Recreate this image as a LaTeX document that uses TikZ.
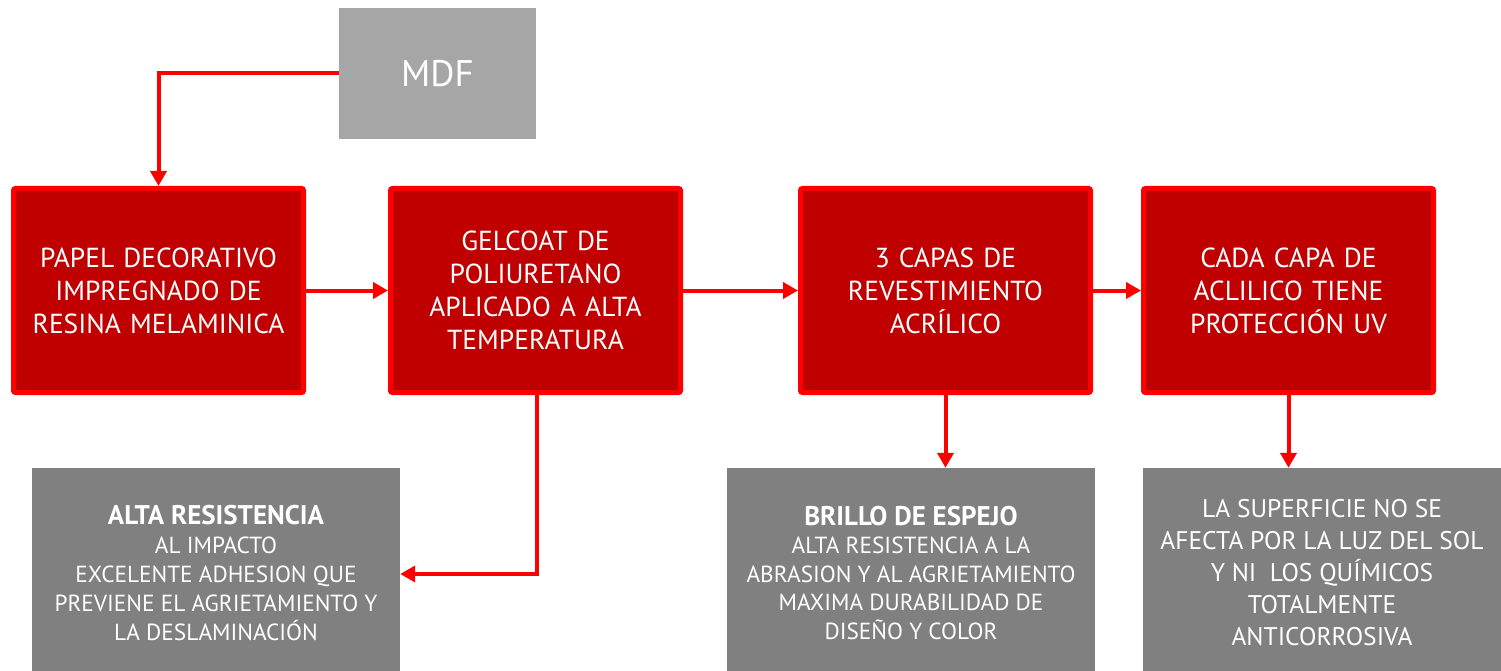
\documentclass[tikz,border=0pt]{standalone}
\usepackage{fontspec}
\setmainfont{PT Sans}
\usetikzlibrary{arrows.meta}
\definecolor{boxred}{HTML}{C00000}
\definecolor{linered}{HTML}{FF0000}
\definecolor{mdfgray}{HTML}{A6A6A6}
\definecolor{darkgray}{HTML}{808080}
\newcommand{\boldhead}[1]{{\fontsize{27}{29}\selectfont\bfseries #1}}
\tikzset{
  redbox/.style={draw=linered, fill=boxred, line width=5pt, rounded corners=2pt,
    minimum width=290pt, minimum height=204pt, text width=280pt, align=center,
    text=white, font=\fontsize{27.5}{33}\selectfont, inner sep=0pt},
  graybox/.style={fill=darkgray, minimum height=209pt, align=center,
    text=white, font=\fontsize{23.3}{29}\selectfont, inner sep=0pt},
  arr/.style={draw=linered, line width=4pt, -{Triangle[length=15pt,width=16pt]}}
}
\begin{document}
\begin{tikzpicture}[x=1pt,y=-1pt]
\useasboundingbox (0,0) rectangle (1501,671);
\node[fill=mdfgray, minimum width=197pt, minimum height=131pt, text=white,
  font=\fontsize{37}{42}\selectfont, inner sep=0pt] (mdf) at (437.5,73.5) {MDF};
\node[redbox] (p1) at (158.5,290.5) {PAPEL DECORATIVO\\IMPREGNADO DE\\RESINA MELAMINICA};
\node[redbox] (p2) at (535.5,290.5) {GELCOAT DE\\POLIURETANO\\APLICADO A ALTA\\TEMPERATURA};
\node[redbox] (p3) at (945.5,290.5) {3 CAPAS DE\\REVESTIMIENTO\\ACRÍLICO};
\node[redbox] (p4) at (1288.5,290.5) {CADA CAPA DE\\ACLILICO TIENE\\PROTECCIÓN UV};
\node[graybox, minimum width=368pt] (ga) at (216,572.5) {\boldhead{ALTA RESISTENCIA}\\AL IMPACTO\\EXCELENTE ADHESION QUE\\PREVIENE EL AGRIETAMIENTO Y\\LA DESLAMINACIÓN};
\node[graybox, minimum width=368pt, font=\fontsize{23.3}{28.5}\selectfont] (gb) at (911,572.5) {\boldhead{BRILLO DE ESPEJO}\\ALTA RESISTENCIA A LA\\ABRASION Y AL AGRIETAMIENTO\\MAXIMA DURABILIDAD DE\\DISEÑO Y COLOR};
\node[graybox, minimum width=358pt, font=\fontsize{25.5}{32}\selectfont] (gc) at (1322,572.5) {LA SUPERFICIE NO SE\\AFECTA POR LA LUZ DEL SOL\\Y NI\ \ LOS QUÍMICOS\\TOTALMENTE\\ANTICORROSIVA};
\draw[arr] (mdf.west) -| (p1.north);
\draw[arr] (p1.east) -- (p2.west);
\draw[arr] (p2.east) -- (p3.west);
\draw[arr] (p3.east) -- (p4.west);
\draw[arr] ([xshift=1.5pt]p2.south) |- ([yshift=-1.5pt]ga.east);
\draw[arr] (p3.south) -- (gb.north -| p3.south);
\draw[arr] (p4.south) -- (gc.north -| p4.south);
\end{tikzpicture}
\end{document}
